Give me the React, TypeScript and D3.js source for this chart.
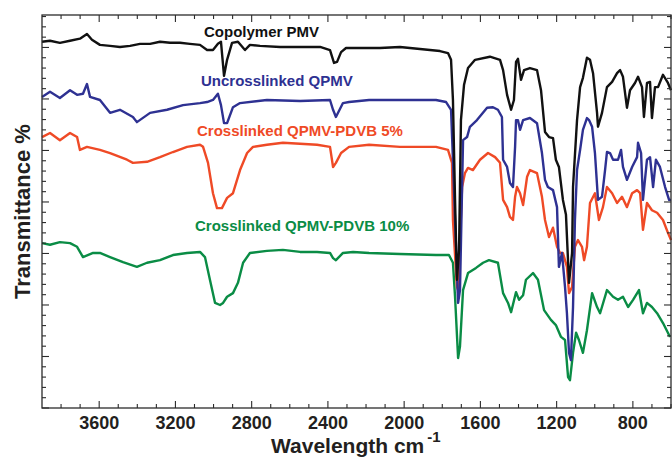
import React from 'react';
import * as d3 from 'd3';

type Pt = [number, number];

// wavenumber (cm-1), transmittance (arbitrary %, stacked)
const copolymerPMV: Pt[] = [
  [3900, 71.1], [3858, 71.3], [3806, 70.9], [3753, 71.3], [3701, 71.7], [3664, 72.6], [3638, 71.5],
  [3596, 70.5], [3543, 70.3], [3491, 70.1], [3438, 70.3], [3386, 70.7], [3333, 70.7], [3281, 71.1],
  [3228, 70.9], [3176, 70.9], [3124, 70.7], [3071, 70.5], [3034, 69.5], [3003, 69.5], [2977, 70.7],
  [2961, 71.1], [2945, 64.5], [2929, 67.6], [2903, 70.9], [2872, 71.1], [2835, 69.5], [2809, 70.5],
  [2756, 70.3], [2651, 70.1], [2546, 70.1], [2441, 70.1], [2389, 69.5], [2368, 67.0], [2352, 67.2],
  [2331, 69.1], [2305, 69.9], [2232, 69.9], [2127, 69.9], [2022, 70.1], [1917, 69.7], [1812, 69.3],
  [1770, 68.9], [1754, 67.6], [1744, 59.8], [1733, 40.4], [1723, 24.9], [1712, 30.7], [1702, 55.9],
  [1686, 62.7], [1665, 66.0], [1628, 67.6], [1550, 68.2], [1497, 67.6], [1481, 65.6], [1460, 60.8],
  [1439, 57.9], [1424, 59.8], [1413, 67.2], [1403, 67.8], [1387, 63.7], [1371, 65.6], [1340, 66.0],
  [1303, 65.6], [1282, 61.7], [1261, 53.6], [1240, 52.6], [1219, 52.4], [1204, 48.2], [1188, 46.8],
  [1167, 40.4], [1151, 37.5], [1135, 24.3], [1119, 30.1], [1114, 42.9], [1093, 55.9], [1077, 62.3],
  [1062, 64.1], [1041, 68.0], [1025, 67.6], [1009, 65.0], [988, 57.3], [983, 54.6], [962, 57.3],
  [936, 62.3], [909, 63.3], [883, 65.0], [867, 65.6], [852, 64.3], [831, 58.3], [815, 61.7],
  [789, 63.1], [773, 64.3], [752, 62.3], [742, 56.5], [726, 63.1], [710, 63.3], [700, 56.3],
  [684, 62.3], [668, 62.3], [642, 64.7], [616, 63.1], [600, 61.7],
];

const uncrosslinkedQPMV: Pt[] = [
  [3900, 60.4], [3858, 61.4], [3806, 60.2], [3753, 61.7], [3716, 60.8], [3685, 61.0], [3664, 62.9],
  [3648, 60.4], [3596, 59.8], [3543, 57.3], [3491, 57.9], [3423, 56.5], [3402, 55.5], [3333, 57.3],
  [3244, 57.9], [3160, 58.8], [3071, 59.2], [3034, 59.4], [3003, 59.8], [2977, 61.0], [2961, 58.8],
  [2945, 55.3], [2929, 55.3], [2898, 58.4], [2861, 59.2], [2720, 59.8], [2546, 59.6], [2389, 59.8],
  [2373, 57.9], [2358, 56.5], [2321, 59.2], [2289, 59.4], [2184, 59.8], [2022, 59.8], [1833, 59.8],
  [1780, 59.4], [1754, 57.9], [1744, 48.2], [1733, 36.5], [1717, 20.4], [1707, 22.9], [1691, 52.0],
  [1670, 52.6], [1655, 54.6], [1618, 55.9], [1565, 58.3], [1534, 58.4], [1508, 57.9], [1487, 56.5],
  [1481, 48.2], [1460, 46.8], [1445, 43.7], [1429, 42.9], [1418, 50.7], [1413, 55.9], [1403, 55.9],
  [1392, 54.0], [1376, 55.9], [1340, 56.3], [1303, 55.3], [1277, 49.5], [1261, 44.3], [1246, 42.9],
  [1219, 42.3], [1198, 39.0], [1188, 27.4], [1172, 30.1], [1156, 23.5], [1146, 18.4], [1135, 10.7],
  [1125, 9.3], [1114, 19.6], [1104, 36.5], [1093, 46.2], [1077, 50.1], [1062, 54.0], [1041, 56.3],
  [1030, 55.9], [1014, 54.6], [999, 49.5], [983, 40.4], [962, 41.0], [946, 46.2], [936, 49.7],
  [920, 49.5], [904, 48.2], [878, 48.2], [862, 50.1], [852, 46.8], [831, 44.3], [804, 46.8],
  [778, 48.7], [773, 51.5], [757, 49.5], [747, 40.4], [726, 48.2], [710, 48.7], [694, 42.9],
  [679, 48.2], [658, 46.8], [631, 42.9], [610, 40.4], [600, 40.4],
];

const crosslinked5: Pt[] = [
  [3900, 52.6], [3858, 53.4], [3806, 52.0], [3753, 53.4], [3716, 52.6], [3701, 50.1], [3664, 50.7],
  [3596, 50.1], [3543, 49.5], [3454, 48.2], [3423, 47.6], [3349, 47.8], [3281, 48.7], [3213, 49.7],
  [3139, 50.7], [3071, 51.1], [3055, 50.7], [3029, 47.6], [3003, 41.7], [2982, 38.8], [2956, 38.8],
  [2929, 40.8], [2898, 41.7], [2861, 46.2], [2824, 49.5], [2793, 50.7], [2720, 51.1], [2636, 51.5],
  [2457, 51.1], [2389, 50.7], [2373, 46.8], [2358, 47.6], [2331, 49.5], [2289, 50.7], [2184, 51.1],
  [2022, 50.7], [1833, 50.7], [1770, 50.1], [1749, 47.6], [1744, 36.5], [1723, 23.5], [1717, 22.9],
  [1696, 42.9], [1681, 45.6], [1665, 46.6], [1639, 46.2], [1602, 48.2], [1560, 49.5], [1523, 48.7],
  [1497, 47.6], [1481, 40.4], [1460, 39.0], [1445, 37.1], [1429, 36.5], [1418, 41.0], [1408, 42.9],
  [1392, 41.7], [1376, 39.4], [1355, 44.9], [1340, 46.2], [1303, 45.6], [1277, 41.0], [1261, 36.5],
  [1240, 33.2], [1219, 35.0], [1198, 31.3], [1182, 30.1], [1167, 30.1], [1146, 27.4], [1135, 22.3],
  [1119, 23.5], [1104, 31.3], [1088, 32.6], [1067, 31.3], [1056, 28.7], [1041, 31.3], [1025, 39.8],
  [999, 41.7], [978, 36.5], [957, 39.0], [936, 42.9], [909, 41.7], [883, 39.8], [857, 41.0],
  [831, 39.0], [804, 41.7], [778, 42.3], [762, 41.7], [747, 34.6], [726, 39.8], [700, 38.4],
  [673, 37.9], [642, 36.5], [616, 34.0], [600, 32.6],
];

const crosslinked10: Pt[] = [
  [3900, 32.0], [3858, 31.7], [3806, 32.2], [3753, 32.0], [3716, 31.3], [3685, 29.3], [3632, 30.1],
  [3596, 30.1], [3543, 29.3], [3475, 28.3], [3402, 27.4], [3349, 28.2], [3281, 28.7], [3213, 29.7],
  [3139, 30.1], [3071, 30.3], [3045, 29.3], [3019, 24.9], [2992, 20.4], [2966, 20.0], [2950, 20.4],
  [2929, 21.6], [2898, 22.3], [2872, 24.3], [2845, 28.2], [2809, 30.1], [2720, 30.5], [2636, 30.7],
  [2546, 30.3], [2457, 30.3], [2389, 30.1], [2373, 29.1], [2358, 28.7], [2321, 30.1], [2268, 30.3],
  [2184, 30.1], [2022, 29.9], [1833, 29.7], [1765, 29.7], [1744, 28.2], [1733, 21.6], [1717, 9.7],
  [1707, 12.0], [1691, 22.9], [1665, 26.2], [1623, 27.2], [1586, 28.2], [1555, 28.7], [1508, 28.2],
  [1481, 22.3], [1455, 20.4], [1439, 18.6], [1413, 22.5], [1397, 21.0], [1376, 21.9], [1361, 24.9],
  [1324, 26.2], [1298, 24.9], [1266, 19.0], [1230, 17.1], [1204, 16.1], [1177, 13.8], [1156, 13.2],
  [1140, 6.0], [1130, 5.4], [1114, 10.7], [1098, 14.6], [1083, 13.2], [1062, 10.7], [1041, 15.1],
  [1014, 22.3], [988, 19.6], [972, 18.4], [936, 22.9], [904, 21.6], [878, 21.0], [852, 21.6],
  [825, 19.6], [799, 21.0], [768, 22.9], [747, 18.4], [726, 20.4], [700, 19.6], [673, 18.4],
  [642, 16.5], [605, 13.8],
];

const seriesNames = ['Copolymer PMV', 'Uncrosslinked QPMV', 'Crosslinked QPMV-PDVB 5%', 'Crosslinked QPMV-PDVB 10%'];
const seriesData = [copolymerPMV, uncrosslinkedQPMV, crosslinked5, crosslinked10];
const seriesColors = ['#111111', '#2e3192', '#ef4a26', '#0a8c45'];

const xMajorTicks = [3600, 3200, 2800, 2400, 2000, 1600, 1200, 800];
const xMinorStep = 100;
const yMinorStep = 2;
const yMajorStep = 10;

const W = 672;
const H = 459;
const margin = { top: 15, right: 1, bottom: 51, left: 42 };
const FONT = '"Liberation Sans", Arial, Helvetica, sans-serif';

// label anchors (px) for the series names
const labelPos = [
  { x: 204, y: 37 },
  { x: 201, y: 86 },
  { x: 197, y: 136 },
  { x: 195, y: 231 },
];

const App: React.FC = () => {
  const x0 = margin.left;
  const x1 = W - margin.right;
  const y0 = H - margin.bottom;
  const y1 = margin.top;

  const xScale = d3.scaleLinear().domain([3900, 600]).range([x0, x1]);
  const yScale = d3.scaleLinear().domain([0, 76.3]).range([y0, y1]);

  const line = d3.line<Pt>()
    .x(d => xScale(d[0]))
    .y(d => yScale(d[1]));

  const xTicks = d3.range(3800, 599, -xMinorStep);
  const yTicks = d3.range(0, 76.3, yMinorStep);

  const axisColor = '#2b2b2b';
  const drawOrder = [3, 2, 1, 0];

  return (
    <svg width={W} height={H} style={{ position: 'absolute', left: 0, top: 0, background: '#fff' }}>
      {/* series */}
      {drawOrder.map(i => (
        <path
          key={seriesNames[i]}
          d={line(seriesData[i]) || ''}
          fill="none"
          stroke={seriesColors[i]}
          strokeWidth={2.4}
          strokeLinejoin="round"
        />
      ))}

      {/* frame */}
      <rect x={x0} y={y1} width={x1 - x0} height={y0 - y1} fill="none" stroke={axisColor} strokeWidth={1.3} />

      {/* x ticks, bottom and top, inward */}
      {xTicks.map(t => {
        const major = xMajorTicks.includes(t);
        const len = major ? 7 : 4;
        const px = xScale(t);
        return (
          <g key={'xt' + t} stroke={axisColor} strokeWidth={1.1}>
            <line x1={px} x2={px} y1={y0} y2={y0 - len} />
            <line x1={px} x2={px} y1={y1} y2={y1 + len} />
          </g>
        );
      })}

      {/* y ticks, left and right, inward */}
      {yTicks.map(t => {
        const major = Math.abs(t % yMajorStep) < 1e-6;
        const len = major ? 7 : 4;
        const py = yScale(t);
        return (
          <g key={'yt' + t} stroke={axisColor} strokeWidth={1.1}>
            <line x1={x0} x2={x0 + len} y1={py} y2={py} />
            <line x1={x1} x2={x1 - len} y1={py} y2={py} />
          </g>
        );
      })}

      {/* x tick labels */}
      {xMajorTicks.map(t => (
        <text
          key={'xl' + t}
          x={xScale(t)}
          y={y0 + 21}
          textAnchor="middle"
          fontFamily={FONT}
          fontWeight="bold"
          fontSize={18}
          fill="#231f20"
        >
          {t}
        </text>
      ))}

      {/* axis titles */}
      <text x={271} y={453} fontFamily={FONT} fontWeight="bold" fontSize={21} fill="#231f20">
        Wavelength cm
        <tspan fontSize={15} dx={3} dy={-11}>-1</tspan>
      </text>
      <text
        transform={`translate(30, ${(y0 + y1) / 2}) rotate(-90)`}
        textAnchor="middle"
        fontFamily={FONT}
        fontWeight="bold"
        fontSize={22}
        fill="#231f20"
      >
        Transmittance %
      </text>

      {/* series labels */}
      {seriesNames.map((name, i) => (
        <text
          key={'lab' + i}
          x={labelPos[i].x}
          y={labelPos[i].y}
          fontFamily={FONT}
          fontWeight="bold"
          fontSize={15}
          fill={seriesColors[i]}
        >
          {name}
        </text>
      ))}
    </svg>
  );
};

export default App;
